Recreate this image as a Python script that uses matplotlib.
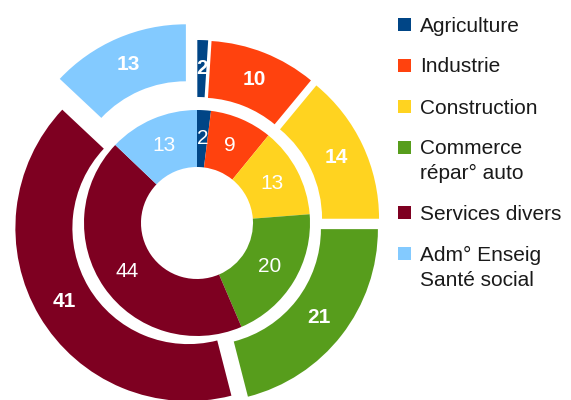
import matplotlib.pyplot as plt

plt.rcParams['font.family'] = ['Liberation Sans', 'DejaVu Sans']

categories = ["Agriculture", "Industrie", "Construction", "Commerce\nrépar° auto",
              "Services divers", "Adm° Enseig\nSanté social"]
colors = ["#004586", "#ff420e", "#ffd320", "#579d1c", "#7e0021", "#83caff"]

inner_values = [2, 9, 13, 20, 44, 13]
outer_values = [1, 10, 14, 21, 41, 13]
inner_labels = ["2", "9", "13", "20", "44", "13"]
outer_labels = ["2", "10", "14", "21", "41", "13"]

# geometry in pixel units (1 data unit = 1 px)
hole_r = 56
inner_r = 113
outer_in = 116
outer_r = 173
outer_explode = [10, 10, 10, 10, 10, 28]

fig = plt.figure(figsize=(5.71, 4.0), dpi=100)
ax = fig.add_axes([0, 0, 1, 1])

w_in, t_in = ax.pie(inner_values, radius=inner_r, colors=colors, startangle=90,
                    counterclock=False, labels=inner_labels,
                    labeldistance=(inner_r + hole_r) / 2 / inner_r,
                    wedgeprops=dict(width=inner_r - hole_r, linewidth=0),
                    textprops=dict(color="white", fontsize=15))
w_out, t_out = ax.pie(outer_values, radius=outer_r, colors=colors, startangle=90,
                      counterclock=False, labels=outer_labels, explode=outer_explode,
                      labeldistance=(outer_r + outer_in) / 2 / outer_r,
                      wedgeprops=dict(width=outer_r - outer_in, linewidth=0),
                      textprops=dict(color="white", fontsize=15, fontweight="bold"))
for t in t_in + t_out:
    t.set_ha("center")
    t.set_va("center")

ax.set_xlim(-197, 374)
ax.set_ylim(-177, 223)
ax.set_aspect("equal")
ax.axis("off")

# legend drawn by hand
y = 24
for name, c in zip(categories, colors):
    lines = name.split("\n")
    fig.patches.append(plt.Rectangle((398 / 571, 1 - (y + 6.5) / 400), 13 / 571, 13 / 400,
                                     transform=fig.transFigure, facecolor=c,
                                     edgecolor="none"))
    for k, line in enumerate(lines):
        fig.text(420 / 571, 1 - (y + 7.5 + 24.5 * k) / 400, line, fontsize=15,
                 va="baseline", ha="left", color="#1a1a1a")
    y += 41 + 24.5 * (len(lines) - 1)

fig.savefig("out.png", dpi=100)
